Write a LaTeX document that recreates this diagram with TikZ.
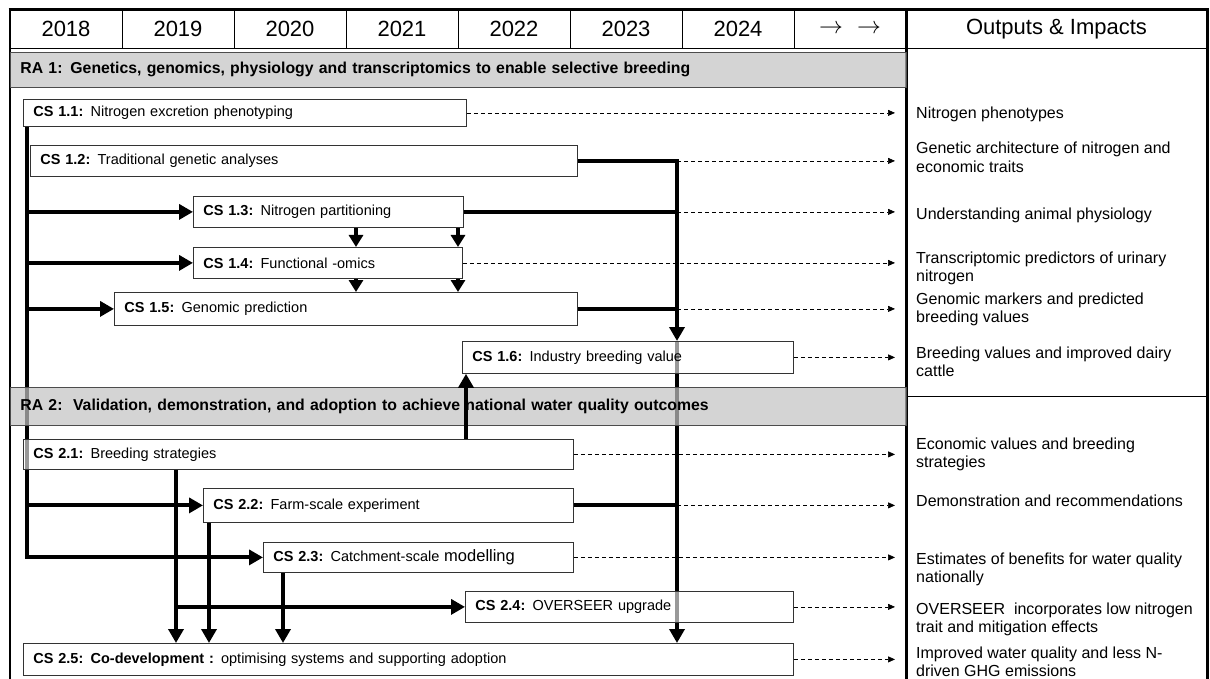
\documentclass[tikz,border=0pt]{standalone}
\usepackage{fontspec}
\setmainfont{Liberation Sans}
\usetikzlibrary{arrows.meta}
\pgfdeclarelayer{bg}
\pgfsetlayers{bg,main}
\begin{document}
\begin{tikzpicture}[x=1pt,y=-1pt,
 csbox/.style={draw=black!80, line width=0.8pt, fill=white, fill opacity=0.6, text opacity=1, draw opacity=1, anchor=north west, inner xsep=10pt, inner ysep=0pt, align=left, font=\fontsize{14.5pt}{16pt}\selectfont},
 raband/.style={draw=black!70, line width=0.8pt, fill=black!24, fill opacity=0.7, text opacity=1, draw opacity=1, anchor=north west, inner xsep=10pt, inner ysep=0pt, align=left, font=\bfseries\fontsize{15.8pt}{18pt}\selectfont},
 hdr/.style={draw=black, line width=0.8pt, minimum height=38pt, inner sep=0pt, font=\fontsize{22pt}{26pt}\selectfont},
 outtxt/.style={anchor=base west, inner sep=0pt, font=\fontsize{16pt}{18.5pt}\selectfont},
 thk/.style={line width=4pt},
 arr/.style={-{Triangle[length=14pt,width=15pt]}},
 sarr/.style={-{Triangle[length=12pt,width=14pt]}},
 dsh/.style={line width=0.7pt, dash pattern=on 4pt off 3pt, -{Triangle[length=7pt,width=6pt]}},
]
\useasboundingbox (0,0) rectangle (1210,679);
% header
\node[hdr, minimum width=112pt] (h1) at (66,29) {2018};
\node[hdr, minimum width=112pt] (h2) at (178,29) {2019};
\node[hdr, minimum width=112pt] (h3) at (290,29) {2020};
\node[hdr, minimum width=112pt] (h4) at (402,29) {2021};
\node[hdr, minimum width=112pt] (h5) at (514,29) {2022};
\node[hdr, minimum width=112pt] (h6) at (626,29) {2023};
\node[hdr, minimum width=112pt] (h7) at (738,29) {2024};
\node[hdr, minimum width=112pt] (h8) at (850,29) {\scalebox{1.15}{$\rightarrow$}\hspace{14pt}\scalebox{1.15}{$\rightarrow$}};
\node[hdr, minimum width=301pt] (oh) at (1056.5,29) {Outputs \& Impacts};
% frame
\draw[line width=1.5pt] (10,679) -- (10,10);
\draw[line width=3pt] (8.5,10) -- (1207,10) -- (1207,679);
\draw[line width=3pt] (906,10) -- (906,679);
\draw[line width=0.8pt] (906,396) -- (1207,396);
% bands
\node[raband, text width=876pt, minimum height=35pt] (ra1) at (10,52) {RA 1: Genetics, genomics, physiology and transcriptomics to enable selective breeding};
\node[raband, text width=876pt, minimum height=38pt] (ra2) at (10,387) {RA 2:\ \ Validation, demonstration, and adoption to achieve national water quality outcomes};
% boxes
\node[csbox, text width=423pt, minimum height=27pt] (c11) at (23,99) {\textbf{CS 1.1:} Nitrogen excretion phenotyping};
\node[csbox, text width=527pt, minimum height=31pt] (c12) at (30,145) {\textbf{CS 1.2:} Traditional genetic analyses};
\node[csbox, text width=250pt, minimum height=31pt] (c13) at (193,196) {\textbf{CS 1.3:} Nitrogen partitioning};
\node[csbox, text width=249pt, minimum height=31pt] (c14) at (193,247) {\textbf{CS 1.4:} Functional -omics};
\node[csbox, text width=443pt, minimum height=33pt] (c15) at (114,292) {\textbf{CS 1.5:} Genomic prediction};
\node[csbox, text width=311pt, minimum height=32pt] (c16) at (462,341) {\textbf{CS 1.6:} Industry breeding value};
\node[csbox, text width=530pt, minimum height=30pt] (c21) at (23,439) {\textbf{CS 2.1:} Breeding strategies};
\node[csbox, text width=350pt, minimum height=34pt] (c22) at (203,488) {\textbf{CS 2.2:} Farm-scale experiment};
\node[csbox, text width=290pt, minimum height=30pt] (c23) at (263,542) {\textbf{CS 2.3:} Catchment-scale {\fontsize{16.5pt}{18pt}\selectfont modelling}};
\node[csbox, text width=308pt, minimum height=31pt] (c24) at (465,591) {\textbf{CS 2.4:} OVERSEER upgrade};
\node[csbox, text width=750pt, minimum height=32pt] (c25) at (23,643) {\textbf{CS 2.5: Co-development :} optimising systems and supporting adoption};
% outputs
\node[outtxt] (o11) at (916,119) {Nitrogen phenotypes};
\node[outtxt] (o12) at (916,154) {\parbox[t]{285pt}{Genetic architecture of nitrogen and\\economic traits}};
\node[outtxt] (o13) at (916,219) {Understanding animal physiology};
\node[outtxt] (o14) at (916,263) {\parbox[t]{285pt}{Transcriptomic predictors of urinary\\nitrogen}};
\node[outtxt] (o15) at (916,304) {\parbox[t]{285pt}{Genomic markers and predicted\\breeding values}};
\node[outtxt] (o16) at (916,358) {\parbox[t]{285pt}{Breeding values and improved dairy\\cattle}};
\node[outtxt] (o21) at (916,449) {\parbox[t]{285pt}{Economic values and breeding\\strategies}};
\node[outtxt] (o22) at (916,506) {Demonstration and recommendations};
\node[outtxt] (o23) at (916,564) {\parbox[t]{285pt}{Estimates of benefits for water quality\\nationally}};
\node[outtxt] (o24) at (916,614) {\parbox[t]{285pt}{OVERSEER\ \ incorporates low nitrogen\\trait and mitigation effects}};
\node[outtxt] (o25) at (916,658) {\parbox[t]{285pt}{Improved water quality and less N-\\driven GHG emissions}};
% coordinates
\coordinate (lx) at (27,0);
\coordinate (bv) at (677,0);
\coordinate (ax) at (895,0);
\coordinate (ux) at (466,0);
\coordinate (a1) at (356,0);
\coordinate (a2) at (458,0);
\coordinate (d1) at (176,0);
\coordinate (d2) at (209,0);
\coordinate (d3) at (283,0);
% lines behind boxes
\begin{pgfonlayer}{bg}
\draw[thk,arr] (c11.south -| lx) |- (c23.west);
\draw[thk,arr] (c12.east) -| (c16.north -| bv);
\draw[thk,arr] (c16.north -| bv) -- (c25.north -| bv);
\end{pgfonlayer}
% branches from left spine
\draw[thk,arr] (c13.west -| lx) -- (c13.west);
\draw[thk,arr] (c14.west -| lx) -- (c14.west);
\draw[thk,arr] (c15.west -| lx) -- (c15.west);
\draw[thk,arr] (c22.west -| lx) -- (c22.west);
% feeders to big vertical
\draw[thk] (c13.east) -- (c13.east -| bv);
\draw[thk] (c15.east) -- (c15.east -| bv);
\draw[thk] (c22.east) -- (c22.east -| bv);
% small down arrows
\draw[thk,sarr] (c13.south -| a1) -- (c14.north -| a1);
\draw[thk,sarr] (c13.south -| a2) -- (c14.north -| a2);
\draw[thk,sarr] (c14.south -| a1) -- (c15.north -| a1);
\draw[thk,sarr] (c14.south -| a2) -- (c15.north -| a2);
% up arrow
\draw[thk,arr] (c21.north -| ux) -- (c16.south -| ux);
% RA2 downward arrows
\draw[thk,arr] (c21.south -| d1) -- (c25.north -| d1);
\draw[thk,arr] (c24.west -| d1) -- (c24.west);
\draw[thk,arr] (c22.south -| d2) -- (c25.north -| d2);
\draw[thk,arr] (c23.south -| d3) -- (c25.north -| d3);
% dashed output arrows
\draw[dsh] (c11.east) -- (c11.east -| ax);
\draw[dsh] (c12.east -| bv) -- (c12.east -| ax);
\draw[dsh] (c13.east -| bv) -- (c13.east -| ax);
\draw[dsh] (c14.east) -- (c14.east -| ax);
\draw[dsh] (c15.east -| bv) -- (c15.east -| ax);
\draw[dsh] (c16.east) -- (c16.east -| ax);
\draw[dsh] (c21.east) -- (c21.east -| ax);
\draw[dsh] (c22.east -| bv) -- (c22.east -| ax);
\draw[dsh] (c23.east) -- (c23.east -| ax);
\draw[dsh] (c24.east) -- (c24.east -| ax);
\draw[dsh] (c25.east) -- (c25.east -| ax);
\end{tikzpicture}
\end{document}
